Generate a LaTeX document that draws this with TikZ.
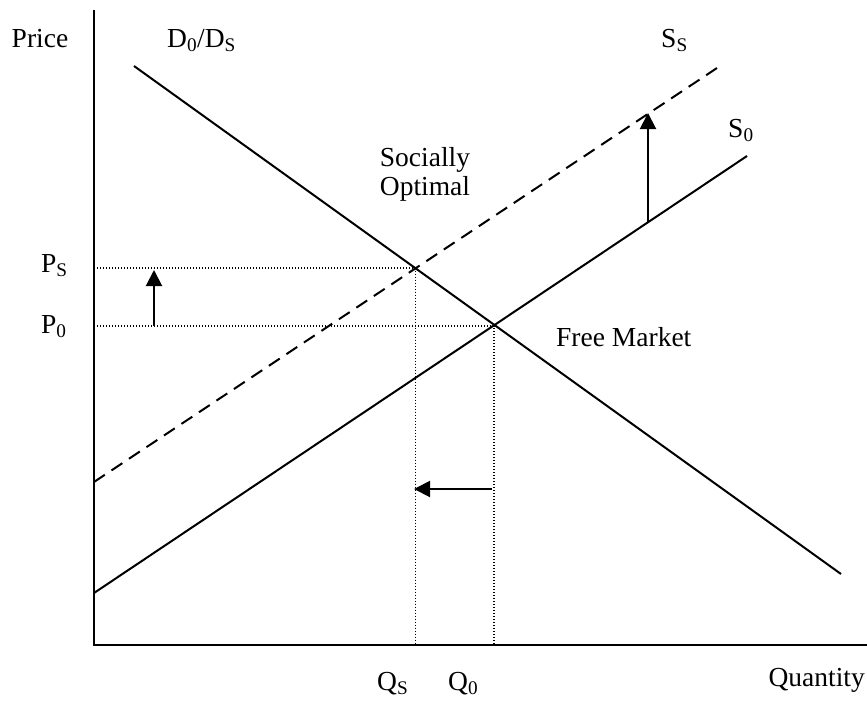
\documentclass[tikz,border=0pt]{standalone}
\usepackage{fontspec}
\setmainfont{Liberation Serif}
\usetikzlibrary{arrows.meta}
\begin{document}
\begin{tikzpicture}[x=1pt,y=-1pt,
  lbl/.style={inner sep=0pt,anchor=base west,font=\fontsize{27.5}{29}\selectfont},
  axisline/.style={line width=2.4pt},
  curve/.style={line width=2pt},
  dashcurve/.style={line width=2pt,dash pattern=on 13pt off 8pt},
  guide/.style={line width=1.6pt,dash pattern=on 1.4pt off 1.6pt},
  shiftarrow/.style={line width=2pt,-{Triangle[length=16pt,width=16pt]}},
]
\useasboundingbox (0,0) rectangle (867,705);
% axes
\coordinate (O) at (94,645);
\coordinate (ytop) at (94,10);
\coordinate (xend) at (867,645);
\draw[axisline] (ytop) -- (O) -- (xend);
% curves
\coordinate (D1) at (134,66);
\coordinate (D2) at (841,574);
\coordinate (S01) at (94,593);
\coordinate (S02) at (747,156);
\coordinate (SS1) at (94,482);
\coordinate (SS2) at (720,66);
\draw[curve] (D1) -- (D2);
\draw[curve] (S01) -- (S02);
\draw[dashcurve] (SS1) -- (SS2);
% equilibria
\coordinate (ES) at (415.5,268);
\coordinate (E0) at (494,326);
\coordinate (PSax) at (94,268);
\coordinate (P0ax) at (94,326);
\coordinate (QSax) at (415.5,645);
\coordinate (Q0ax) at (494,645);
\draw[guide] (PSax) -- (ES) -- (QSax);
\draw[guide] (P0ax) -- (E0) -- (Q0ax);
% shift arrows
\coordinate (a1s) at (154,326);
\coordinate (a1e) at (154,270);
\coordinate (a2s) at (648,222);
\coordinate (a2e) at (648,113);
\coordinate (a3s) at (492,489);
\coordinate (a3e) at (414,489);
\draw[shiftarrow] (a1s) -- (a1e);
\draw[shiftarrow] (a2s) -- (a2e);
\draw[shiftarrow] (a3s) -- (a3e);
% labels
\node[lbl,anchor=base] (price) at (40,47) {Price};
\node[lbl] (dlab) at (167,47) {D\textsubscript{0}/D\textsubscript{S}};
\node[lbl] (sslab) at (661,47) {S\textsubscript{S}};
\node[lbl] (s0lab) at (728,137) {S\textsubscript{0}};
\node[lbl,anchor=base] (soc1) at (425,166) {Socially};
\node[lbl,anchor=base] (soc2) at (425,195) {Optimal};
\node[lbl] (pslab) at (41,272) {P\textsubscript{S}};
\node[lbl] (p0lab) at (41,333) {P\textsubscript{0}};
\node[lbl] (fm) at (556,346) {Free Market};
\node[lbl] (qslab) at (377,690) {Q\textsubscript{S}};
\node[lbl] (q0lab) at (448,690) {Q\textsubscript{0}};
\node[lbl,anchor=base east] (qty) at (865,686) {Quantity};
\end{tikzpicture}
\end{document}
